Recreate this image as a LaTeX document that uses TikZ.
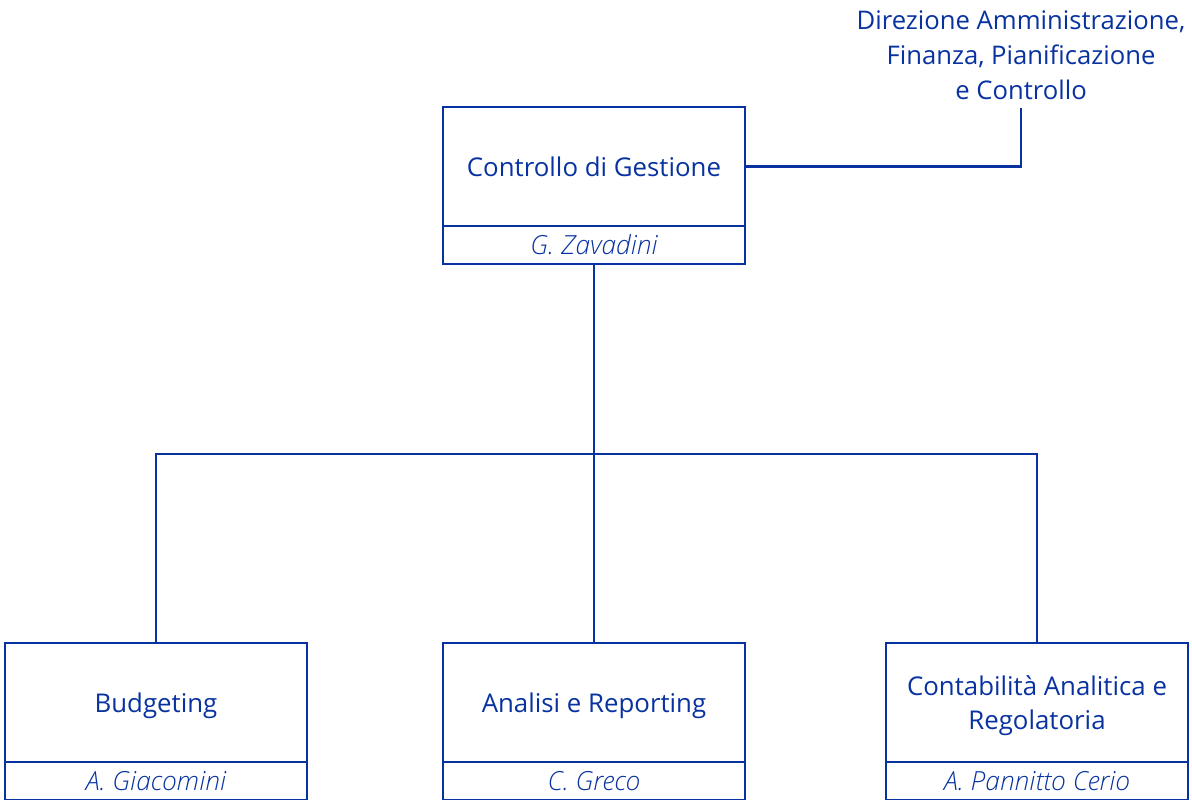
\documentclass[tikz,border=0pt]{standalone}
\usepackage{fontspec}
\setmainfont{Open Sans}
\IfFontExistsTF{Open Sans Light Italic}
  {\newfontfamily\namefont{Open Sans Light Italic}}
  {\newcommand\namefont{\itshape}}
\usepackage{xcolor}
\usepackage{tikz}
\usetikzlibrary{positioning}
\definecolor{orgblue}{RGB}{8,50,160}

\begin{document}
\begin{tikzpicture}[x=0.02cm, y=-0.02cm, line width=1.6pt, color=orgblue,
    unit/.style={draw, minimum width=6.04cm, minimum height=2.38cm, align=center,
      text depth=0pt, inner sep=2pt, outer sep=0pt, font=\fontsize{14.7}{19.5}\selectfont},
    holder/.style={draw, minimum width=6.04cm, minimum height=0.76cm,
      inner sep=0pt, outer sep=0pt, font=\fontsize{15}{19.5}\selectfont\namefont}]
        \useasboundingbox (0, 0) rectangle (1192, 800);

        % Controllo di Gestione
        \node[unit] (cdg) at (594, 166.5) {Controllo di Gestione};
        \node[holder, below=0pt of cdg] (cdgname) {G. Zavadini};

        % Direzione
        \node[align=center, inner sep=4pt, font=\fontsize{14.6}{19.8}\selectfont] (dir) at (1021, 55)
            {Direzione Amministrazione,\\Finanza, Pianificazione\\e Controllo};
        \draw (cdg.east) -| (dir.south);

        % Units
        \node[unit] (bud) at (156, 702.5) {Budgeting};
        \node[holder, below=0pt of bud] (budname) {A. Giacomini};
        \node[unit] (anr) at (594, 702.5) {Analisi e Reporting};
        \node[holder, below=0pt of anr] (anrname) {C. Greco};
        \node[unit] (cra) at (1037, 702.5) {Contabilità Analitica e\\Regolatoria};
        \node[holder, below=0pt of cra] (craname) {A. Pannitto Cerio};

        % Lines to units
        \coordinate (split) at (594, 454);
        \draw (cdgname.south) -- (anr.north);
        \draw (bud.north) |- (split) -| (cra.north);
    \end{tikzpicture}
\end{document}
